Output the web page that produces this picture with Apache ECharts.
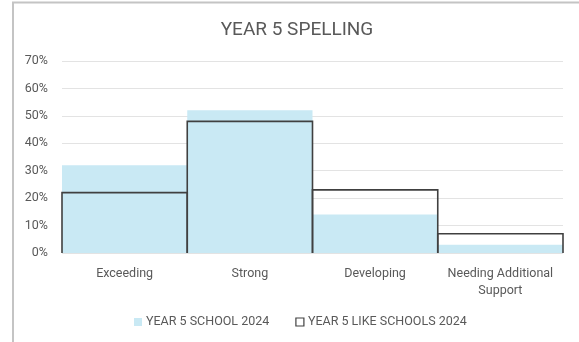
<!DOCTYPE html>
<html>
<head>
<meta charset="utf-8">
<script src="https://cdn.jsdelivr.net/npm/echarts@6/dist/echarts.min.js"></script>
<style>
  html, body { margin: 0; padding: 0; background: #fff; }
  #chart { width: 579px; height: 342px; }
</style>
</head>
<body>
<div id="chart"></div>
<script>
// Year 5 spelling results, share of students per band (%)
const categories = ['Exceeding', 'Strong', 'Developing', 'Needing Additional\nSupport'];
const schoolValues = [32, 52, 14, 3];
const likeSchoolValues = [22, 48, 23, 7];
const seriesNames = ['YEAR 5 SCHOOL 2024', 'YEAR 5 LIKE SCHOOLS 2024'];

const textColor = '#595959';
const fillBlue = '#c9e9f4';
const outline = '#404040';
const font = 'Roboto, "Liberation Sans", sans-serif';

const chart = echarts.init(document.getElementById('chart'), null, { renderer: 'canvas' });

// Open outline (left, top, right edges) of each comparison bar, spanning the full category band
function renderOutline(params, api) {
  const idx = api.value(0);
  const val = api.value(1);
  const top = api.coord([idx, val]);
  const base = api.coord([idx, 0]);
  const half = api.size([1, 0])[0] / 2;
  return {
    type: 'polyline',
    shape: {
      points: [
        [top[0] - half, base[1]],
        [top[0] - half, top[1]],
        [top[0] + half, top[1]],
        [top[0] + half, base[1]]
      ]
    },
    style: { fill: null, stroke: outline, lineWidth: 1.6 }
  };
}

chart.setOption({
  animation: false,
  backgroundColor: '#fff',
  textStyle: { fontFamily: font },
  graphic: [{
    type: 'rect',
    shape: { x: 13, y: 2.5, width: 580, height: 360 },
    style: { fill: 'none', stroke: '#c4c4c4', lineWidth: 2 },
    silent: true,
    z: -1
  }],
  title: {
    text: 'YEAR 5 SPELLING',
    left: 297,
    textAlign: 'center',
    top: 16,
    padding: [5, 0, 5, 0],
    textStyle: { fontFamily: font, fontWeight: 'normal', fontSize: 19, color: textColor }
  },
  grid: { left: 62, right: 16, top: 61, bottom: 89 },
  legend: {
    top: 315.5,
    left: 134,
    padding: 0,
    itemWidth: 8,
    itemHeight: 8,
    itemGap: 26,
    icon: 'rect',
    textStyle: { fontFamily: font, fontSize: 12.5, color: textColor, padding: [0, 0, 0, -1] },
    data: [
      { name: seriesNames[0], itemStyle: { color: fillBlue, borderWidth: 0 } },
      { name: seriesNames[1], itemStyle: { color: '#fff', borderColor: outline, borderWidth: 1.2 } }
    ]
  },
  xAxis: {
    type: 'category',
    data: categories,
    axisLine: { show: false },
    axisTick: { show: false },
    axisLabel: { interval: 0, color: textColor, fontSize: 12.5, margin: 12.5, lineHeight: 16.6, fontFamily: font }
  },
  yAxis: {
    type: 'value',
    min: 0,
    max: 70,
    interval: 10,
    axisLine: { show: false },
    axisTick: { show: false },
    axisLabel: { color: textColor, fontSize: 12.5, margin: 14, formatter: '{value}%', fontFamily: font },
    splitLine: { lineStyle: { color: '#e3e3e3', width: 1 } }
  },
  series: [
    {
      name: seriesNames[0],
      type: 'bar',
      data: schoolValues,
      barCategoryGap: 0,
      itemStyle: { color: fillBlue },
      z: 2
    },
    {
      name: seriesNames[1],
      type: 'custom',
      renderItem: renderOutline,
      data: likeSchoolValues.map((v, i) => [i, v]),
      encode: { x: 0, y: 1 },
      itemStyle: { color: '#fff', borderColor: outline },
      z: 3
    }
  ]
});
</script>
</body>
</html>
